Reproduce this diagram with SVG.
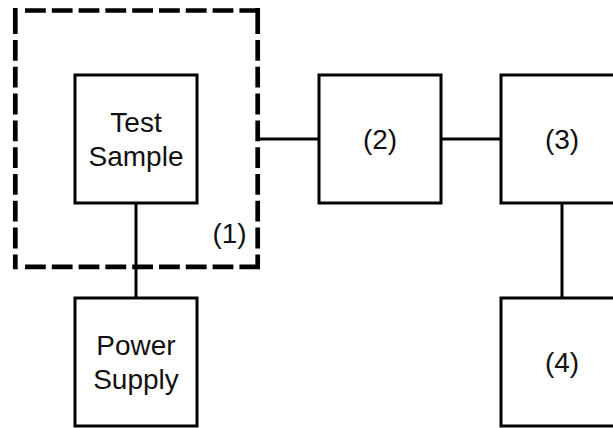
<svg xmlns="http://www.w3.org/2000/svg" width="613" height="428" viewBox="0 0 613 428">
<style>
.box{fill:#fff;stroke:#000;stroke-width:3}
.dash{fill:none;stroke:#000;stroke-width:4.7}
.wire{stroke:#000;stroke-width:3;fill:none}
text{font-family:"Liberation Sans",Arial,sans-serif;font-size:28px;fill:#111;text-anchor:middle}
</style>
<rect width="613" height="428" fill="#fff"/>
<g id="group1">
<path class="dash" d="M15.3 8V34 M15.3 40v20.8 M15.3 66.8v20.8 M15.3 93.6v20.8 M15.3 120.4v20.8 M15.3 147.2v20.8 M15.3 174v20.8 M15.3 200.8v20.8 M15.3 227.6v20.8 M15.3 254.4V269.2
M257.7 8V34 M257.7 40v20.8 M257.7 66.8v20.8 M257.7 93.6v20.8 M257.7 120.4v20.8 M257.7 147.2v20.8 M257.7 174v20.8 M257.7 200.8v20.8 M257.7 227.6v20.8 M257.7 254.4V269.2
M25 10.5h20.8 M51.8 10.5h20.8 M78.6 10.5h20.8 M105.4 10.5h20.8 M132.2 10.5h20.8 M159 10.5h20.8 M185.8 10.5h20.8 M212.6 10.5h20.8 M239.4 10.5H260
M25 266.8h20.8 M51.8 266.8h20.8 M78.6 266.8h20.8 M105.4 266.8h20.8 M132.2 266.8h20.8 M159 266.8h20.8 M185.8 266.8h20.8 M212.6 266.8h20.8 M239.4 266.8H260"/>
<text x="229.5" y="243">(1)</text>
</g>
<g id="connectors">
<line class="wire" x1="136" y1="203" x2="136" y2="298"/>
<line class="wire" x1="259" y1="139" x2="319" y2="139"/>
<line class="wire" x1="441" y1="139" x2="501" y2="139"/>
<line class="wire" x1="562" y1="203" x2="562" y2="298"/>
</g>
<g id="test-sample">
<rect class="box" x="75" y="75" width="122" height="128"/>
<text x="136" y="132">Test</text>
<text x="136" y="166">Sample</text>
</g>
<g id="power-supply">
<rect class="box" x="75" y="298" width="122" height="128"/>
<text x="136" y="355">Power</text>
<text x="136" y="389">Supply</text>
</g>
<g id="node2">
<rect class="box" x="319" y="75" width="122" height="128"/>
<text x="380" y="149">(2)</text>
</g>
<g id="node3">
<rect class="box" x="501" y="75" width="122" height="128"/>
<text x="562" y="149">(3)</text>
</g>
<g id="node4">
<rect class="box" x="501" y="298" width="122" height="128"/>
<text x="562" y="372">(4)</text>
</g>
</svg>
